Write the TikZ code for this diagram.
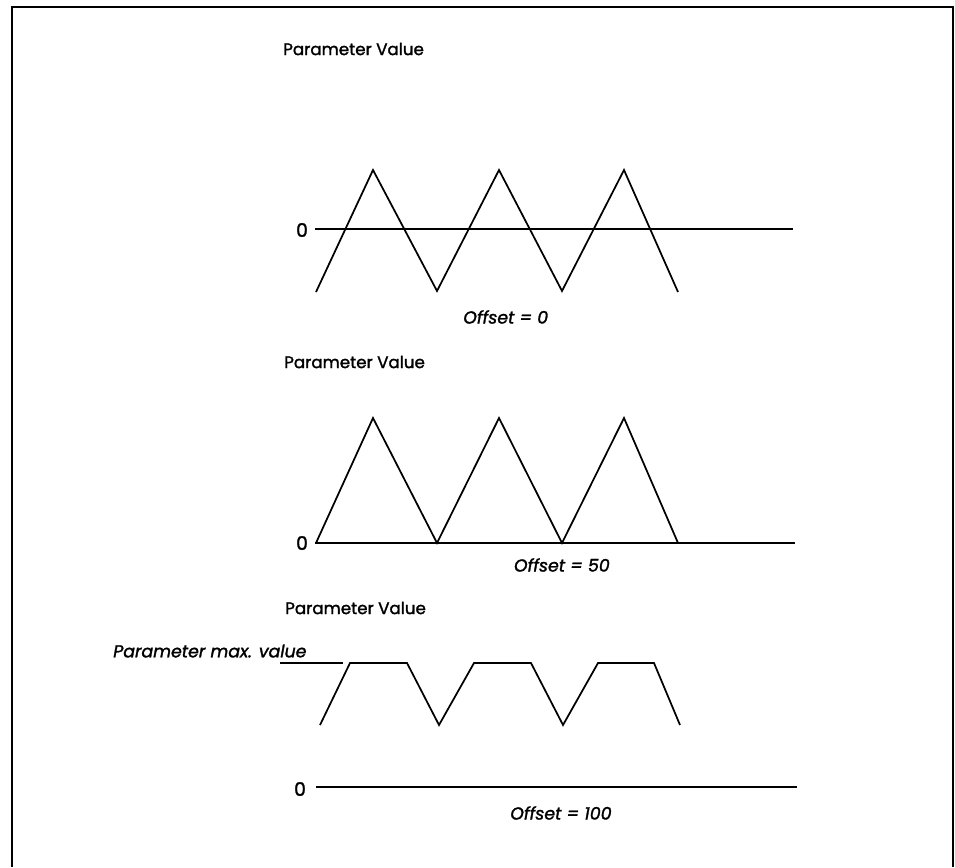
\documentclass[tikz,border=0pt]{standalone}
\usepackage{fontspec}
\setmainfont{Poppins}[UprightFeatures={FakeBold=1.6},ItalicFeatures={FakeBold=1.6}]
\begin{document}
\begin{tikzpicture}[x=0.75pt,y=-0.75pt,
  wave/.style={line width=1.3pt,line join=miter},
  axis/.style={line width=1.3pt},
  frame/.style={line width=1.5pt},
  lbl/.style={inner sep=0pt,font=\fontsize{12.5}{14}\selectfont},
  ilbl/.style={inner sep=0pt,font=\fontsize{13}{15}\selectfont\itshape}]
\useasboundingbox (0,0) rectangle (955,867);
\draw[frame] (12,867) -- (12,7) -- (953,7) -- (953,867);
% graph 1
\node[lbl,anchor=west] (pv1) at (283,49) {Parameter Value};
\node[lbl,font=\fontsize{14}{16}\selectfont] (z1) at (302,230) {0};
\draw[axis] (315,229) -- (793,229);
\draw[wave] (316,292) -- (373,170) -- (437,291) -- (499,170) -- (562,291) -- (624,170) -- (678,292);
\node[ilbl,anchor=west] (o1) at (463,317) {Offset = 0};
% graph 2
\node[lbl,anchor=west] (pv2) at (284,362) {Parameter Value};
\node[lbl,font=\fontsize{14}{16}\selectfont] (z2) at (302,543) {0};
\draw[axis] (315,543) -- (795,543);
\draw[wave] (316,543) -- (373,418) -- (437,543) -- (499,418) -- (562,543) -- (624,418) -- (678,543);
\node[ilbl,anchor=east] (o2) at (610,565) {Offset = 50};
% graph 3
\node[lbl,anchor=west] (pv3) at (285,608) {Parameter Value};
\node[ilbl,anchor=west] (pmax) at (113,651) {Parameter max. value};
\draw[axis] (280,663) -- (343,663);
\draw[wave] (320,725) -- (350,663) -- (407,663) -- (439,725) -- (474,663) -- (531,663) -- (563,725) -- (598,663) -- (654,663) -- (680,725);
\node[lbl,font=\fontsize{14}{16}\selectfont] (z3) at (300,789) {0};
\draw[axis] (316,787) -- (797,787);
\node[ilbl,anchor=west] (o3) at (510,813) {Offset = 100};
\end{tikzpicture}
\end{document}
